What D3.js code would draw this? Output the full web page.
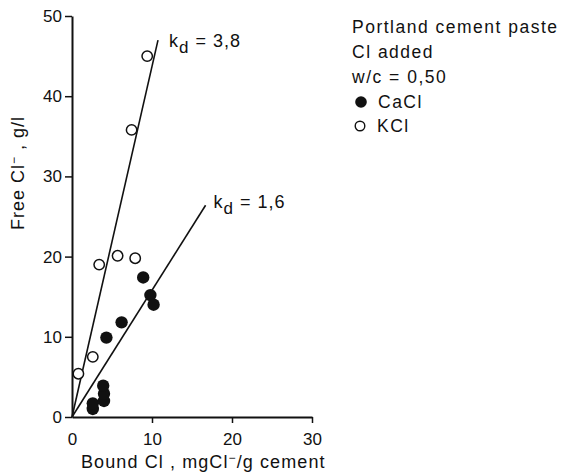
<!DOCTYPE html>
<html>
<head>
<meta charset="utf-8">
<script src="https://cdn.jsdelivr.net/npm/d3@7"></script>
<style>
  body { margin: 0; background: #fff; }
  text { font-family: "Liberation Sans", Arial, sans-serif; fill: #111; }
</style>
</head>
<body>
<div id="chart"></div>
<script>
// data
const xTicks = [0, 10, 20, 30];
const yTicks = [0, 10, 20, 30, 40, 50];
const cacl = [[2.6,1.0],[2.6,1.7],[4.0,2.0],[4.0,2.9],[3.9,3.9],[4.3,9.9],[6.2,11.8],[8.9,17.4],[9.8,15.2],[10.2,14.0]];
const kcl = [[0.8,5.4],[2.6,7.5],[3.4,19.0],[5.7,20.1],[7.9,19.8],[7.45,35.8],[9.4,45.0]];
const lineHigh = [[0,0],[10.75,47.0]];
const lineLow = [[0,0],[16.7,26.4]];
const legendLines = ["Portland cement paste", "Cl added", "w/c = 0,50"];

const W = 573, H = 476;
const svg = d3.select("#chart").append("svg")
    .attr("width", W)
    .attr("height", H);

const x = d3.scaleLinear().domain([0, 30]).range([72, 312]);
const y = d3.scaleLinear().domain([0, 50]).range([417, 16]);

// axes
const xAxis = svg.append("g")
    .attr("transform", "translate(0," + y(0) + ")")
    .call(d3.axisBottom(x).tickValues(xTicks).tickSize(6).tickPadding(10).tickSizeOuter(0));
const yAxis = svg.append("g")
    .attr("transform", "translate(" + x(0) + ",0)")
    .call(d3.axisLeft(y).tickValues(yTicks).tickSize(7).tickPadding(3).tickSizeOuter(0));
[xAxis, yAxis].forEach(a => {
    a.select(".domain").attr("stroke", "#111").attr("stroke-width", 2);
    a.selectAll(".tick line").attr("stroke", "#111").attr("stroke-width", 1.5);
    a.selectAll(".tick text").attr("font-size", 17).attr("fill", "#111")
        .attr("font-family", "Liberation Sans, Arial, sans-serif");
});
xAxis.selectAll(".tick").filter(d => d === 0).select("line").remove();

// fitted lines
const line = d3.line().x(d => x(d[0])).y(d => y(d[1]));
[lineHigh, lineLow].forEach(l => {
    svg.append("path")
        .attr("d", line(l))
        .attr("fill", "none")
        .attr("stroke", "#111")
        .attr("stroke-width", 1.6);
});

// points
svg.append("g").selectAll("circle").data(kcl).enter().append("circle")
    .attr("cx", d => x(d[0]))
    .attr("cy", d => y(d[1]))
    .attr("r", 5.2)
    .attr("fill", "#fff")
    .attr("stroke", "#111")
    .attr("stroke-width", 1.5);
svg.append("g").selectAll("circle").data(cacl).enter().append("circle")
    .attr("cx", d => x(d[0]))
    .attr("cy", d => y(d[1]))
    .attr("r", 6.2)
    .attr("fill", "#111");

// kd labels
function kdLabel(px, py, val) {
    const t = svg.append("text").attr("x", px).attr("y", py)
        .attr("font-size", 18).attr("letter-spacing", 1);
    t.append("tspan").text("k");
    t.append("tspan").attr("dy", 6).attr("font-size", 17).text("d");
    t.append("tspan").attr("dy", -6).text(" = " + val);
}
kdLabel(x(lineHigh[1][0]) + 11, y(lineHigh[1][1]) + 7, "3,8");
kdLabel(x(lineLow[1][0]) + 8, y(lineLow[1][1]) + 3, "1,6");

// axis titles
const xt = svg.append("text")
    .attr("x", 81).attr("y", 468)
    .attr("font-size", 18)
    .attr("letter-spacing", 1.1);
xt.append("tspan").text("Bound Cl , mgCl");
xt.append("tspan").attr("dy", -6).attr("font-size", 12).text("−");
xt.append("tspan").attr("dy", 6).text("/g cement");

const yt = svg.append("text")
    .attr("transform", "translate(24,230) rotate(-90)")
    .attr("font-size", 18)
    .attr("letter-spacing", 1);
yt.append("tspan").text("Free Cl");
yt.append("tspan").attr("dy", -6).attr("font-size", 12).text("−");
yt.append("tspan").attr("dy", 6).text(" ,  g/l");

// legend
const lg = svg.append("g").attr("transform", "translate(352,0)");
lg.selectAll("text.head").data(legendLines).enter().append("text")
    .attr("class", "head")
    .attr("x", 0)
    .attr("y", (d, i) => 33 + i * 24.8)
    .attr("font-size", 17.5)
    .attr("letter-spacing", 1.5)
    .text(d => d);
lg.append("circle").attr("cx", 9).attr("cy", 102).attr("r", 5.8).attr("fill", "#111");
lg.append("text").attr("x", 26).attr("y", 108).attr("font-size", 17.5)
    .attr("letter-spacing", 1.5).text("CaCl");
lg.append("circle").attr("cx", 8).attr("cy", 126).attr("r", 4.8).attr("fill", "#fff")
    .attr("stroke", "#111").attr("stroke-width", 1.4);
lg.append("text").attr("x", 25).attr("y", 132).attr("font-size", 17.5)
    .attr("letter-spacing", 1.5).text("KCl");
</script>
</body>
</html>
